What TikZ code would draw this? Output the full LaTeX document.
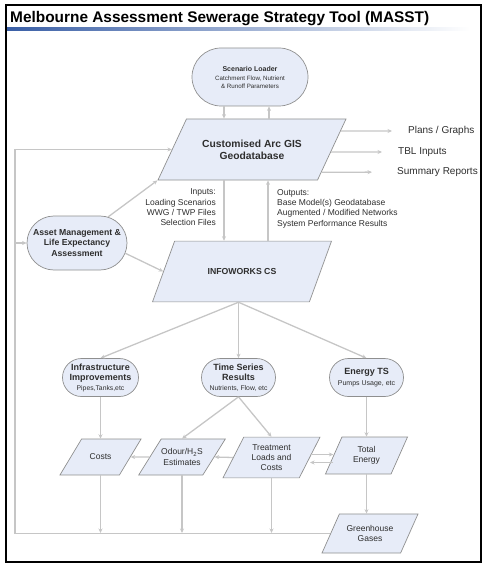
\documentclass[tikz,border=0pt]{standalone}
\usepackage{fontspec}
\setmainfont{Liberation Sans}
\usetikzlibrary{shapes.geometric,shapes.misc,arrows.meta,calc}

\definecolor{boxfill}{HTML}{E7ECF8}
\definecolor{boxline}{HTML}{8F8F8F}
\definecolor{flowgray}{HTML}{C6C6C6}
\definecolor{inkgray}{HTML}{2E2E2E}
\definecolor{titleblue}{HTML}{3A5FA6}

\tikzset{
  box/.style={draw=boxline, fill=boxfill, line width=0.7pt, text=inkgray, align=center, inner sep=0pt},
  pill/.style={box, rounded rectangle},
  slab/.style n args={2}{box, trapezium, trapezium left angle=#1, trapezium right angle={180-#1}, trapezium stretches body=true, inner ysep=#2},
  flow/.style={draw=flowgray, line width=1.3pt, -{Stealth[length=4.5pt, width=4pt]}},
  boldfont/.style={font=\fontsize{9}{10.5}\selectfont\bfseries},
  notefont/.style={font=\fontsize{8.5}{10.3}\selectfont, text=inkgray, inner sep=0pt},
  sidefont/.style={font=\fontsize{10}{12}\selectfont, text=inkgray, inner sep=0pt},
  cellfont/.style={font=\fontsize{8.5}{10.3}\selectfont},
}

\begin{document}
\begin{tikzpicture}[x=1pt, y=-1pt]
  \useasboundingbox (0,0) rectangle (487,569);

  % Frame and title
  \draw[line width=1.2pt] (6,5) rectangle (481,562);
  \shade[left color=titleblue, right color=white] (7,28) rectangle (470,31);
  \node[anchor=base west, inner sep=0pt, font=\fontsize{15.4}{18}\selectfont\bfseries] (title) at (10,23) {Melbourne Assessment Sewerage Strategy Tool (MASST)};

  % Drawing node loader
  \node[pill, minimum width=116pt, minimum height=58pt, font=\fontsize{6.2}{8}\selectfont] (loader) at (250,77) {\textbf{\fontsize{7}{9}\selectfont Scenario Loader}\\[1pt]Catchment Flow, Nutrient\\\& Runoff Parameters};

  % Drawing node gis
  \node[slab={65}{20.6pt}, minimum width=188pt, font=\fontsize{10.3}{12.3}\selectfont\bfseries] (gis) at (252,149.5) {Customised Arc GIS\\Geodatabase};

  % Drawing node asset
  \node[pill, minimum width=100pt, minimum height=54pt, font=\fontsize{8.7}{10.5}\selectfont\bfseries] (asset) at (77,243) {Asset Management \&\\Life Expectancy\\Assessment};

  % Drawing node infoworks
  \node[slab={70}{27.3pt}, minimum width=179pt, font=\fontsize{8.7}{10}\selectfont\bfseries] (infoworks) at (242,271.5) {INFOWORKS CS};

  % Drawing nodes of the middle row
  \node[pill, minimum width=76pt, minimum height=38pt, boldfont] (infra) at (100.5,377.5) {Infrastructure\\Improvements\\[-1pt]{\mdseries\fontsize{6.8}{8}\selectfont Pipes,Tanks,etc}};
  \node[pill, minimum width=74pt, minimum height=38pt, boldfont] (ts) at (238.5,377.5) {Time Series\\Results\\[-1pt]{\mdseries\fontsize{6.8}{8}\selectfont Nutrients, Flow, etc}};
  \node[pill, minimum width=74pt, minimum height=38pt, boldfont] (energy) at (366.5,377.5) {Energy TS\\{\mdseries\fontsize{7}{8}\selectfont Pumps Usage, etc}};

  % Drawing nodes of the bottom row
  \node[slab={59}{14.9pt}, minimum width=81pt, cellfont] (costs) at (100.5,457) {Costs};
  \node[slab={58}{9.75pt}, minimum width=86pt, cellfont] (odour) at (182,457) {Odour/H\textsubscript{2}S\\Estimates};
  \node[slab={63}{7.1pt}, minimum width=97pt, cellfont] (treat) at (271.5,457.5) {Treatment\\Loads and\\Costs};
  \node[slab={66}{9.35pt}, minimum width=82pt, cellfont] (total) at (366.5,455.5) {Total\\Energy};
  \node[slab={66}{11.25pt}, minimum width=96pt, cellfont] (green) at (370,533.5) {Greenhouse\\Gases};

  % Marking the side outputs and the notes
  \node[sidefont, anchor=west] (plans) at (408,131) {Plans / Graphs};
  \node[sidefont, anchor=west] (tbl) at (398,152) {TBL Inputs};
  \node[sidefont, anchor=west] (summary) at (397,172) {Summary Reports};
  \node[notefont, anchor=east, align=right] (inputs) at (216,207.5) {Inputs:\\Loading Scenarios\\WWG / TWP Files\\Selection Files};
  \node[notefont, anchor=west, align=left] (outputs) at (277,208.5) {Outputs:\\Base Model(s) Geodatabase\\Augmented / Modified Networks\\System Performance Results};

  \coordinate (bl) at (15,533);

  % Drawing loader to gis and back
  \draw[flow] ([xshift=-26pt]loader.south) -- ([xshift=-26pt]loader.south |- gis.north);
  \draw[flow] ([xshift=19pt]loader.south |- gis.north) -- ([xshift=19pt]loader.south);

  % Drawing gis to infoworks and back
  \draw[flow] ([xshift=-26pt]loader.south |- gis.south) -- ([xshift=-26pt]loader.south |- infoworks.north);
  \draw[flow] ([xshift=18pt]loader.south |- infoworks.north) -- ([xshift=18pt]loader.south |- gis.south);

  % Drawing gis to the side outputs
  \draw[flow, shorten >=16pt] ($(gis.top right corner)!0.2!(gis.bottom right corner)$) -- (plans.west);
  \draw[flow, shorten >=16pt] ($(gis.top right corner)!0.54!(gis.bottom right corner)$) -- (tbl.west);
  \draw[flow, shorten >=25pt] ($(gis.top right corner)!0.87!(gis.bottom right corner)$) -- (summary.west);

  % Drawing asset to gis and infoworks
  \draw[flow] (asset.40) -- (gis.bottom left corner);
  \draw[flow] (asset.-12) -- (infoworks.west);

  % Drawing infoworks to the middle row
  \draw[flow] (infoworks.south -| ts.north) -- (infra.north);
  \draw[flow] (infoworks.south -| ts.north) -- (ts.north);
  \draw[flow] (infoworks.south -| ts.north) -- (energy.north);

  % Drawing middle row to bottom row
  \draw[flow] (infra.south) -- (costs |- costs.north);
  \draw[flow] (ts.south) -- (odour |- odour.north);
  \draw[flow] (ts.south) -- (treat |- treat.north);
  \draw[flow] (energy.south) -- (energy.south |- total.north);

  % Drawing links inside the bottom row
  \draw[flow] (odour.west) -- (costs.east);
  \draw[flow] (treat.west) -- (odour.east);
  \draw[flow] ([yshift=3pt]treat.east) -- ([yshift=3pt]treat.east -| total.west);
  \draw[flow] ([yshift=-5pt]treat.east -| total.west) -- ([yshift=-5pt]treat.east);
  \draw[flow] (total |- total.south) -- (total |- green.north);

  % Drawing the return bus
  \draw[flow] (costs |- costs.south) -- (costs |- bl);
  \draw[flow] (odour |- odour.south) -- (odour |- bl);
  \draw[flow] (treat |- treat.south) -- (treat |- bl);
  \draw[flow] (green.west) -- (green.west -| bl) -- (bl |- gis.west) -- (gis.west);
  \draw[flow] (bl |- asset.west) -- (asset.west);
\end{tikzpicture}
\end{document}
